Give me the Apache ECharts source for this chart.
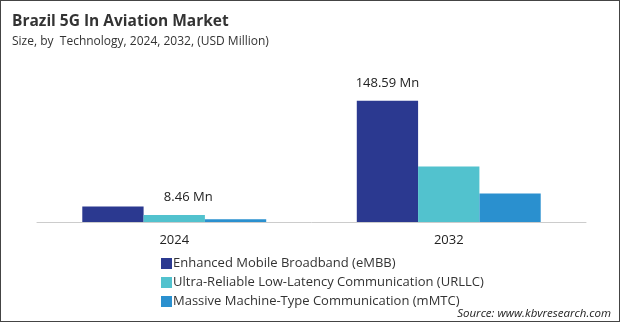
<!DOCTYPE html>
<html><head><meta charset="utf-8">
<script src="https://cdn.jsdelivr.net/npm/echarts@6/dist/echarts.min.js"></script>
<style>html,body{margin:0;padding:0;background:#fff}#c{width:620px;height:322px;box-sizing:border-box;border:1px solid #444}</style>
</head><body><div id="c"></div>
<script>
const categories = ['2024', '2032'];
const seriesNames = ['Enhanced Mobile Broadband (eMBB)', 'Ultra-Reliable Low-Latency Communication (URLLC)', 'Massive Machine-Type Communication (mMTC)'];
const embb = [19, 148.59];
const urllc = [8.46, 68];
const mmtc = [3.5, 35];
const colors = ['#2B3990', '#52C2CE', '#2A90CF'];
const font = 'Open Sans';

const chart = echarts.init(document.getElementById('c'), null, {renderer: 'canvas'});
const lbl = {show: true, position: 'top', distance: 11, color: '#222', fontSize: 13, fontFamily: font, formatter: p => p.value + ' Mn'};
chart.setOption({
  animation: false,
  title: [
    {text: 'Brazil 5G In Aviation Market', left: 6, top: 8, textStyle: {fontFamily: font, fontSize: 15.5, fontWeight: 'bold', color: '#333'}},
    {text: 'Size, by  Technology, 2024, 2032, (USD Million)', left: 6, top: 30, textStyle: {fontFamily: font, fontSize: 12, fontWeight: 'normal', color: '#333'}},
    {text: 'Source: www.kbvresearch.com', right: 3, top: 302, textStyle: {fontFamily: font, fontSize: 11.5, fontStyle: 'italic', fontWeight: 'normal', color: '#222'}}
  ],
  legend: {orient: 'vertical', left: 155, top: 251, itemWidth: 11, itemHeight: 11, itemGap: 6, icon: 'rect',
    textStyle: {fontFamily: font, fontSize: 13, color: '#333', padding: [0,0,0,-4]}},
  grid: {left: 36, right: 33, top: 90.5, bottom: 99},
  xAxis: {type: 'category', data: categories, axisTick: {show: false},
    axisLine: {lineStyle: {color: '#ccc'}},
    axisLabel: {fontFamily: font, fontSize: 13, color: '#222', margin: 12}},
  yAxis: {type: 'value', min: 0, max: 160, show: false, splitLine: {show: false}},
  series: [
    {name: seriesNames[0], type: 'bar', data: [embb[0], {value: embb[1], label: lbl}], itemStyle: {color: colors[0]}, barGap: '0%', barCategoryGap: '33%'},
    {name: seriesNames[1], type: 'bar', data: [{value: urllc[0], label: Object.assign({}, lbl, {offset: [14, 0]})}, urllc[1]], itemStyle: {color: colors[1]}},
    {name: seriesNames[2], type: 'bar', data: mmtc, itemStyle: {color: colors[2]}}
  ]
});
</script></body></html>
